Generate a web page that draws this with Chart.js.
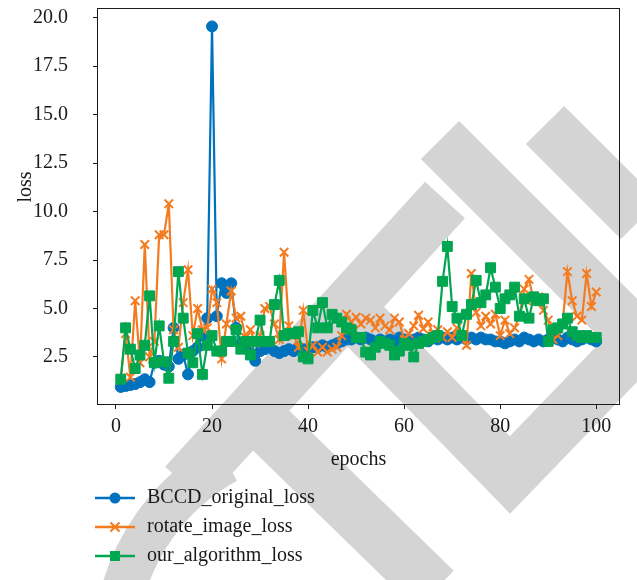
<!DOCTYPE html>
<html>
<head>
<meta charset="utf-8">
<script src="https://cdn.jsdelivr.net/npm/chart.js@4"></script>
<style>
  html, body { margin: 0; padding: 0; background: #fff; }
  #wrap { width: 637px; height: 580px; position: relative; }
</style>
</head>
<body>
<div id="wrap"><canvas id="lossChart" width="637" height="580"></canvas></div>
<script>
// epochs 1..100
const epochs = Array.from({ length: 100 }, (_, i) => i + 1);

const bccdLoss = [
    0.95, 1.0, 1.05, 1.1, 1.2, 1.35, 1.2, 2.2, 2.3, 2.1,
    2.0, 4.0, 2.4, 2.6, 1.6, 2.8, 3.0, 3.6, 4.5, 19.55,
    4.6, 6.3, 5.8, 6.3, 4.0, 3.2, 3.0, 2.7, 2.3, 2.8,
    2.9, 3.0, 2.8, 2.7, 2.8, 2.9, 2.8, 3.0, 2.9, 2.9,
    3.0, 3.0, 3.1, 3.0, 3.1, 3.2, 3.3, 3.4, 3.4, 3.5,
    3.4, 3.5, 3.4, 3.3, 3.4, 3.3, 3.4, 3.3, 3.5, 3.4,
    3.3, 3.4, 3.5, 3.4, 3.3, 3.5, 3.4, 3.5, 3.4, 3.5,
    3.4, 3.5, 3.4, 3.5, 3.4, 3.5, 3.4, 3.4, 3.3, 3.3,
    3.2, 3.3, 3.4, 3.3, 3.5, 3.4, 3.3, 3.4, 3.3, 3.4,
    3.5, 3.4, 3.3, 3.5, 3.4, 3.3, 3.4, 3.5, 3.4, 3.3
];

const rotateLoss = [
    1.4, 3.7, 1.45, 5.4, 2.2, 8.3, 2.5, 3.3, 8.8, 8.8,
    10.4, 3.9, 3.0, 5.3, 7.0, 3.6, 5.0, 3.9, 4.0, 6.0,
    5.3, 2.4, 4.2, 5.9, 4.5, 4.6, 3.5, 3.9, 3.2, 3.6,
    5.0, 5.1, 4.2, 3.4, 7.9, 4.1, 3.6, 3.0, 4.9, 2.8,
    3.1, 2.75, 3.0, 2.75, 2.9, 3.0, 3.6, 4.7, 4.3, 4.55,
    4.2, 4.5, 4.4, 4.0, 4.5, 4.1, 3.9, 4.5, 4.3, 3.4,
    3.7, 4.1, 4.65, 3.95, 4.3, 3.7, 3.9, 3.5, 3.8, 3.5,
    4.0, 3.6, 3.1, 6.8, 4.8, 4.1, 4.6, 4.2, 4.7, 3.6,
    4.4, 3.7, 4.0, 4.6, 6.0, 6.5, 5.4, 5.6, 4.9, 4.4,
    3.4, 3.6, 4.2, 6.9, 5.4, 4.6, 4.4, 6.8, 5.1, 5.85
];

const ourLoss = [
    1.35, 4.0, 2.9, 1.9, 2.6, 3.1, 5.65, 2.2, 4.1, 2.25,
    1.4, 3.3, 6.9, 4.5, 2.7, 2.2, 3.7, 1.6, 3.1, 3.6,
    2.8, 2.8, 3.3, 3.3, 3.9, 2.9, 3.3, 2.6, 3.3, 4.4,
    3.3, 3.3, 5.2, 6.45, 3.6, 3.7, 3.7, 3.8, 2.5, 2.4,
    4.9, 4.0, 5.3, 4.0, 4.7, 4.5, 4.3, 4.0, 3.9, 3.5,
    3.5, 2.75, 2.6, 3.0, 3.3, 3.2, 3.1, 2.6, 2.8, 3.2,
    3.1, 2.5, 3.2, 3.3, 3.4, 3.5, 3.6, 6.4, 8.2, 5.1,
    4.5, 3.6, 4.7, 5.2, 6.45, 5.3, 5.7, 7.1, 6.1, 5.0,
    5.5, 5.7, 6.1, 4.6, 5.5, 4.5, 5.6, 5.4, 5.5, 3.3,
    3.9, 4.0, 4.2, 4.5, 3.8, 3.6, 3.5, 3.6, 3.5, 3.5
];

const seriesNames = ['BCCD_original_loss', 'rotate_image_loss', 'our_algorithm_loss'];
const seriesColors = ['#0072bd', '#f47b20', '#00a650'];
const xTitle = 'epochs';
const yTitle = 'loss';

const FONT = '"Liberation Serif", "DejaVu Serif", serif';
const TEXT = '#1a1a1a';
const GREY = '#d4d4d4';

function toPoints(values) {
    return epochs.map((e, i) => ({ x: e, y: values[i] }));
}

// light grey stamp drawn behind the chart
const stampPlugin = {
    id: 'stamp',
    beforeDraw(chart) {
        const ctx = chart.ctx;
        ctx.save();
        ctx.strokeStyle = GREY;
        ctx.lineCap = 'butt';
        ctx.lineJoin = 'miter';
        ctx.lineWidth = 44;
        ctx.beginPath();
        ctx.arc(330, 650, 215, Math.PI * 1.05, Math.PI * 1.34);
        ctx.stroke();
        ctx.lineWidth = 54;
        const strokes = [
            [[185, 485], [445, 200]],
            [[330, 290], [510, 475], [640, 340]],
            [[250, 410], [435, 590]],
            [[440, 140], [640, 340]],
            [[545, 125], [640, 220]]
        ];
        strokes.forEach(pts => {
            ctx.beginPath();
            ctx.moveTo(pts[0][0], pts[0][1]);
            for (let i = 1; i < pts.length; i++) ctx.lineTo(pts[i][0], pts[i][1]);
            ctx.stroke();
        });
        ctx.restore();
    }
};

// full box, y title and legend with line and marker under the plot
const frameLegendPlugin = {
    id: 'frameLegend',
    afterDraw(chart) {
        const ctx = chart.ctx;
        const a = chart.chartArea;
        ctx.save();
        ctx.strokeStyle = TEXT;
        ctx.lineWidth = 1;
        ctx.strokeRect(a.left + 0.5, a.top + 0.5, a.right - a.left - 1, a.bottom - a.top - 1);

        ctx.fillStyle = TEXT;
        ctx.font = '20px ' + FONT;
        ctx.textAlign = 'center';
        ctx.textBaseline = 'middle';
        ctx.translate(26, 187);
        ctx.rotate(-Math.PI / 2);
        ctx.fillText(yTitle, 0, 0);
        ctx.setTransform(1, 0, 0, 1, 0, 0);

        chart.data.datasets.forEach((ds, i) => {
            const y = 498 + i * 29;
            const x0 = 95, x1 = 135, xm = 115;
            ctx.strokeStyle = ds.borderColor;
            ctx.lineWidth = 2.5;
            ctx.beginPath();
            ctx.moveTo(x0, y);
            ctx.lineTo(x1, y);
            ctx.stroke();
            ctx.fillStyle = ds.borderColor;
            if (ds.pointStyle === 'circle') {
                ctx.beginPath();
                ctx.arc(xm, y, 5.5, 0, Math.PI * 2);
                ctx.fill();
            } else if (ds.pointStyle === 'rect') {
                ctx.fillRect(xm - 5, y - 5, 10, 10);
            } else {
                ctx.lineWidth = 2;
                ctx.beginPath();
                ctx.moveTo(xm - 4.5, y - 4.5); ctx.lineTo(xm + 4.5, y + 4.5);
                ctx.moveTo(xm - 4.5, y + 4.5); ctx.lineTo(xm + 4.5, y - 4.5);
                ctx.stroke();
            }
            ctx.fillStyle = TEXT;
            ctx.font = '20px ' + FONT;
            ctx.textBaseline = 'middle';
            ctx.textAlign = 'left';
            ctx.fillText(ds.label, 147, y);
        });
        ctx.restore();
    }
};

const ctx = document.getElementById('lossChart').getContext('2d');
const chart = new Chart(ctx, {
    type: 'line',
    data: {
        datasets: [
            {
                label: seriesNames[0],
                data: toPoints(bccdLoss),
                borderColor: seriesColors[0],
                backgroundColor: seriesColors[0],
                pointStyle: 'circle',
                pointRadius: 5.5,
                pointBorderWidth: 1,
                order: 3
            },
            {
                label: seriesNames[1],
                data: toPoints(rotateLoss),
                borderColor: seriesColors[1],
                backgroundColor: seriesColors[1],
                pointStyle: 'crossRot',
                pointRadius: 6,
                pointBorderWidth: 2,
                order: 2
            },
            {
                label: seriesNames[2],
                data: toPoints(ourLoss),
                borderColor: seriesColors[2],
                backgroundColor: seriesColors[2],
                pointStyle: 'rect',
                pointRadius: 7,
                pointBorderWidth: 1,
                order: 1
            }
        ]
    },
    options: {
        responsive: false,
        animation: false,
        events: [],
        layout: { padding: { left: 0, right: 17, top: 8, bottom: 103 } },
        elements: {
            line: { borderWidth: 2.2, tension: 0, fill: false },
            point: { hoverRadius: 0 }
        },
        plugins: {
            legend: { display: false },
            tooltip: { enabled: false }
        },
        scales: {
            x: {
                type: 'linear',
                min: -3.95,
                max: 104.95,
                afterFit: (scale) => {
                    scale.height = 72;
                    scale.paddingLeft = 0;
                    scale.paddingRight = 0;
                },
                border: { display: false },
                grid: { drawOnChartArea: false, drawTicks: true, tickLength: 4, color: TEXT },
                ticks: {
                    stepSize: 20,
                    includeBounds: false,
                    padding: 6,
                    maxRotation: 0,
                    color: TEXT,
                    font: { family: FONT, size: 20 }
                },
                title: {
                    display: true,
                    text: xTitle,
                    color: TEXT,
                    font: { family: FONT, size: 20 },
                    padding: { top: 0, bottom: 5 }
                }
            },
            y: {
                min: 0.02,
                max: 20.5,
                afterFit: (scale) => {
                    scale.width = 97;
                    scale.paddingTop = 0;
                    scale.paddingBottom = 0;
                },
                border: { display: false },
                grid: { drawOnChartArea: false, drawTicks: true, tickLength: 4, color: TEXT },
                ticks: {
                    stepSize: 2.5,
                    includeBounds: false,
                    padding: 25,
                    color: TEXT,
                    font: { family: FONT, size: 20 },
                    callback: (v) => v.toFixed(1)
                }
            }
        }
    },
    plugins: [stampPlugin, frameLegendPlugin]
});
</script>
</body>
</html>
